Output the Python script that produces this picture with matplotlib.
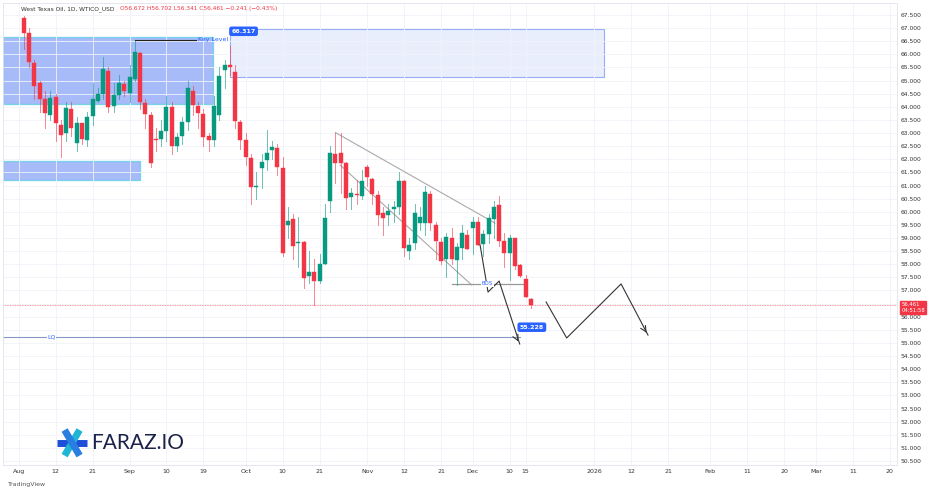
import matplotlib
matplotlib.use("Agg")
import matplotlib.pyplot as plt
from matplotlib.patches import Rectangle
import numpy as np

opens = [67.39,66.81,65.67,64.91,64.30,63.69,64.37,63.31,63.00,63.92,
         62.62,63.38,62.74,63.65,64.22,64.49,65.37,64.03,64.45,64.87,
         64.53,65.06,66.05,64.15,63.69,62.76,62.77,63.08,64.00,62.51,
         62.89,63.42,64.60,64.03,63.73,62.89,62.74,63.69,65.40,65.59,
         65.33,63.42,62.74,62.05,60.94,61.67,61.97,62.36,62.43,61.67,
         59.50,59.73,58.81,58.85,57.55,57.71,57.36,58.01,60.41,62.20,
         62.24,61.86,60.56,60.68,60.60,61.71,61.25,60.64,59.95,59.88,
         60.11,60.18,61.17,58.51,58.81,59.57,59.57,60.68,59.50,58.85,
         58.20,59.00,58.16,58.62,59.12,59.38,59.61,58.77,59.15,59.73,
         60.26,58.89,58.43,59.00,57.97,57.44,56.68]
closes = [66.81,65.71,64.79,64.30,63.77,64.34,63.38,62.93,63.96,63.19,
          63.38,62.77,63.61,64.30,64.49,65.44,64.00,64.45,64.91,64.60,
          65.14,66.09,64.18,63.73,61.86,62.74,63.08,64.00,62.51,62.85,
          63.42,64.72,64.07,63.77,62.85,62.74,64.03,65.18,65.59,65.52,
          63.46,62.74,62.09,60.94,60.95,61.90,62.24,62.47,61.71,58.43,
          59.65,58.70,58.85,57.48,57.71,57.36,58.01,59.76,62.24,61.86,
          61.86,60.53,60.72,60.64,61.17,61.33,60.68,59.88,59.76,60.03,
          60.18,61.17,58.62,58.73,59.95,59.80,60.75,59.57,58.89,58.13,
          59.04,58.20,58.66,59.19,58.58,59.61,58.73,59.15,59.76,60.18,
          58.89,58.43,59.00,57.93,57.55,56.75,56.461]
highs = [67.45,67.0,65.8,65.0,64.6,64.6,64.5,63.5,64.2,64.2,
         63.6,63.4,63.8,64.9,64.7,65.9,65.5,64.9,65.2,65.0,
         65.6,66.53,66.1,64.3,63.8,63.2,63.5,64.4,64.2,63.0,
         63.6,65.0,64.8,64.2,63.9,63.0,64.4,65.5,65.8,66.317,
         65.6,63.5,63.0,62.2,61.5,62.2,63.1,62.7,62.6,62.1,
         60.2,59.9,59.8,58.9,58.5,58.2,58.4,60.3,62.5,63.0,
         63.0,61.9,60.9,61.2,61.6,61.8,61.3,60.8,60.2,60.3,
         60.4,61.5,61.2,59.0,60.3,60.2,61.0,60.8,59.6,59.0,
         59.2,59.4,58.8,59.5,59.3,59.8,59.8,59.3,59.9,60.4,
         60.6,59.2,59.1,59.0,58.0,57.6,56.702]
lows = [66.2,65.5,64.3,63.8,63.2,63.5,62.7,62.1,62.7,62.9,
        62.3,62.6,62.5,63.3,64.2,64.3,63.8,63.8,64.3,64.4,
        64.2,65.0,63.9,63.2,61.7,62.3,62.5,62.7,62.2,62.3,
        62.6,63.1,63.7,63.2,62.5,62.3,62.5,63.5,64.7,65.2,
        63.2,62.4,61.8,60.3,60.5,60.9,61.6,62.0,61.4,58.3,
        59.0,58.2,57.9,57.1,57.3,56.45,57.3,58.1,60.0,61.1,
        60.7,60.1,60.1,60.3,60.5,61.0,60.3,59.5,59.1,59.5,
        59.6,59.9,58.3,58.2,58.6,59.3,59.1,59.3,58.2,58.0,
        57.5,58.0,57.2,58.2,58.6,58.4,58.9,58.3,58.8,59.0,
        58.7,57.9,57.4,57.8,57.5,56.9,56.341]

tick_dates = ["2025-08-01","2025-08-12","2025-08-21","2025-09-01","2025-09-10","2025-09-19",
              "2025-10-01","2025-10-10","2025-10-21","2025-11-03","2025-11-12","2025-11-21",
              "2025-12-01","2025-12-10","2025-12-15","2026-01-01","2026-01-12","2026-01-21",
              "2026-02-02","2026-02-11","2026-02-20","2026-03-02","2026-03-11","2026-03-20"]
tick_labels = ["Aug","12","21","Sep","10","19","Oct","10","21","Nov","12","21",
               "Dec","10","15","2026","12","21","Feb","11","20","Mar","11","20"]

GREEN = "#089981"; RED = "#f23645"
YMIN, YMAX = 50.35, 67.96

fig = plt.figure(figsize=(9.36, 4.92), dpi=100)
ax = fig.add_axes([0.003, 0.055, 0.955, 0.939])
ax.set_xlim(-4, 165.3)
ax.set_ylim(YMIN, YMAX)

for i, (o, h, l, c) in enumerate(zip(opens, highs, lows, closes)):
    col = GREEN if c >= o else RED
    h = max(h, o, c); l = min(l, o, c)
    ax.plot([i, i], [l, h], color=col, lw=0.7, alpha=0.6, zorder=3)
    ax.add_patch(Rectangle((i - 0.38, min(o, c)), 0.76, max(abs(c - o), 0.04),
                           facecolor=col, edgecolor=col, lw=0.3, zorder=4))

# zones
ax.add_patch(Rectangle((-4, 64.11), 39.8, 2.55, facecolor="#6f8ff5", alpha=0.6,
                       edgecolor="#3dc9e0", lw=1, zorder=1))
ax.add_patch(Rectangle((-4, 61.21), 26, 0.73, facecolor="#6f8ff5", alpha=0.6,
                       edgecolor="#3dc9e0", lw=1, zorder=1))
ax.add_patch(Rectangle((39.0, 65.14), 70.8, 1.83, facecolor="#dbe3fd", alpha=0.6,
                       edgecolor="#5b7cf0", lw=0.8, zorder=1))

# key level
ax.plot([21, 32.6], [66.55, 66.55], color="#222", lw=0.8, zorder=5)
ax.text(33.0, 66.55, "Key Level", color="#2962ff", fontsize=4.5, va="center", zorder=5)
ax.text(41.6, 66.88, "66.317", color="white", fontsize=4.5, fontweight="bold", ha="center",
        va="center", zorder=6,
        bbox=dict(boxstyle="round,pad=0.25", fc="#2962ff", ec="#2962ff"))

# channel
ax.plot([59.0, 89.2], [63.02, 59.57], color="#aaaaaa", lw=0.8, zorder=2)
ax.plot([59.9, 84.8], [61.78, 57.21], color="#aaaaaa", lw=0.8, zorder=2)
# BOS
ax.plot([81.0, 94.5], [57.25, 57.25], color="#999999", lw=0.9, zorder=2)
ax.text(87.8, 57.25, "BOS", color="#2962ff", fontsize=4, ha="center", va="center", zorder=6,
        bbox=dict(fc="white", ec="none", pad=0.3))

# current price line
ax.axhline(56.461, color="#f23645", lw=0.6, ls=(0, (1, 1)), alpha=0.7, zorder=2)

# LQ line
ax.plot([-4, 94], [55.23, 55.23], color="#8a96c8", lw=0.8, zorder=2)
ax.text(5.2, 55.23, "LQ", color="#2962ff", fontsize=4.5, ha="center", va="center", zorder=6,
        bbox=dict(fc="white", ec="none", pad=0.3))
ax.text(96.2, 55.60, "55.228", color="white", fontsize=4.5, fontweight="bold", ha="center",
        va="center", zorder=6, bbox=dict(boxstyle="round,pad=0.25", fc="#2962ff", ec="#2962ff"))

# projections
px1 = [86.4, 87.9, 90.0, 93.9]; py1 = [58.73, 56.94, 57.36, 54.96]
ax.plot(px1, py1, color="#333", lw=0.8, zorder=5)
ax.annotate("", xy=(px1[-1], py1[-1]), xytext=(93.3, 55.2),
            arrowprops=dict(arrowstyle="->", color="#333", lw=0.8))
px2 = [98.9, 102.8, 113.1, 118.2]; py2 = [56.56, 55.19, 57.25, 55.30]
ax.plot(px2, py2, color="#333", lw=0.8, zorder=5)
ax.annotate("", xy=(px2[-1], py2[-1]), xytext=(117.6, 55.5),
            arrowprops=dict(arrowstyle="->", color="#333", lw=0.8))

# grid / axes
base = np.datetime64("2025-08-01")
tpos = [np.busday_count(base, np.datetime64(d)) - 1 for d in tick_dates]
ax.set_xticks(tpos)
ax.set_xticklabels(tick_labels, fontsize=4.5, color="#333")
yt = np.arange(50.5, 67.51, 0.5)
ax.set_yticks(yt)
ax.set_yticklabels(["" if abs(v - 56.5) < 1e-6 else f"{v:.3f}" for v in yt], fontsize=4.3, color="#333")
ax.yaxis.tick_right()
ax.tick_params(length=0, pad=3)
ax.grid(True, color="#f0f3fa", lw=0.6, zorder=0)
for s in ax.spines.values():
    s.set_color("#e0e3eb"); s.set_linewidth(0.6)

# price label (drawn over the axis labels)
fy = 0.055 + 0.939 * (56.461 - YMIN) / (YMAX - YMIN)
fig.text(0.963, fy - 0.006, "56.461\n04:51:58", fontsize=3.8, color="white", va="center",
         ha="left", zorder=10, linespacing=1.1, bbox=dict(fc=RED, ec=RED, pad=0.8))

# header
fig.text(0.022, 0.982, "West Texas Oil, 1D, WTICO_USD  ", fontsize=4.2, color="#333", va="center")
fig.text(0.128, 0.982, "O56.672 H56.702 L56.341 C56.461 −0.241 (−0.43%)", fontsize=4.2,
         color=RED, va="center")

# logo
lx, ly = 0.077, 0.10
for ang, colr in [(0, "#1e4fd8"), (60, "#1fb6d6"), (120, "#2a7de1")]:
    a = np.deg2rad(ang)
    fig.add_artist(plt.Line2D([lx - 0.016*np.cos(a), lx + 0.016*np.cos(a)],
                              [ly - 0.03*np.sin(a), ly + 0.03*np.sin(a)],
                              color=colr, lw=5, solid_capstyle="butt", transform=fig.transFigure))
fig.text(0.097, 0.10, "FARAZ.IO", fontsize=15, color="#1b2148", va="center", family="Lato")
fig.text(0.008, 0.015, "TradingView", fontsize=4.5, color="#555", va="center")

fig.savefig("out.png", dpi=100, facecolor="white")
